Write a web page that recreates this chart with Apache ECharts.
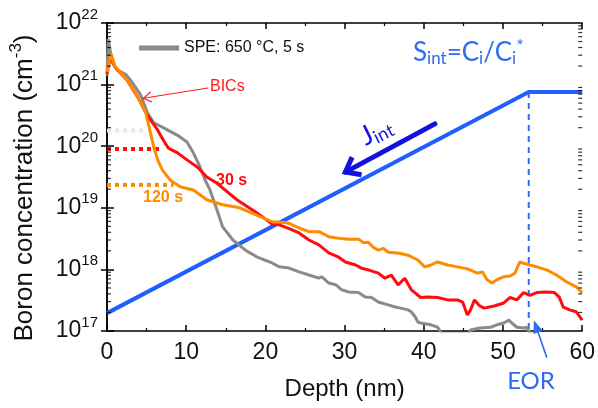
<!DOCTYPE html>
<html><head><meta charset="utf-8">
<script src="https://cdn.jsdelivr.net/npm/echarts@6/dist/echarts.min.js"></script>
<style>html,body{margin:0;padding:0;background:#fff}#c{width:598px;height:408px}</style>
</head><body><div id="c"></div>
<script>
// Boron SIMS profiles: [depth (nm), concentration (cm^-3)]
const spe650 = [[0,1.4e21],[0.15,5.5e21],[0.4,3.6e21],[0.6,2.3e21],[1.4,1.7e21],[2.4,1.45e21],[3.0,1.17e21],[4.25,6.8e20],[5.1,3.5e20],[5.9,2.4e20],[7.1,2.0e20],[8.9,1.5e20],[10.1,1.17e20],[10.9,7.8e19],[11.75,4.6e19],[12.4,2.8e19],[13.0,1.95e19],[13.9,9.1e18],[14.6,4.9e18],[15.9,3.0e18],[17.6,2.0e18],[18.9,1.6e18],[20.9,1.26e18],[21.75,1.1e18],[23.0,1.05e18],[24.25,9.1e17],[25.5,8.1e17],[26.75,7.2e17],[27.1,7.6e17],[28.0,6.0e17],[28.9,5.6e17],[29.6,4.7e17],[30.5,4.3e17],[31.75,4.2e17],[32.6,3.55e17],[33.4,3.5e17],[34.25,2.95e17],[35.5,2.65e17],[36.4,2.45e17],[37.1,2.35e17],[38.0,2.2e17],[38.4,2.05e17],[38.9,1.7e17],[39.25,1.4e17],[39.6,1.35e17],[40.9,1.26e17],[41.75,1.15e17],[42.3,9e16],[45.6,9e16],[45.9,1.04e17],[47.1,1.12e17],[48.4,1.15e17],[49.25,1.26e17],[50.1,1.35e17],[50.75,1.5e17],[51.1,1.35e17],[51.75,1.15e17],[52.6,1.12e17],[53.0,1.15e17],[53.25,1.0e17],[53.6,9e16]];
const anneal30s = [[0,1.5e21],[0.25,2.2e21],[0.5,3.0e21],[0.75,2.4e21],[1.0,1.95e21],[1.4,1.7e21],[2.6,1.15e21],[3.9,6.2e20],[4.9,3.5e20],[5.25,2.95e20],[6.4,1.82e20],[7.1,1.26e20],[7.75,9.3e19],[8.9,7.8e19],[10.1,6.0e19],[11.4,4.6e19],[12.6,3.16e19],[13.9,2.5e19],[16.4,1.35e19],[18.9,8.3e18],[20.9,5.4e18],[21.75,5.3e18],[23.0,4.6e18],[24.25,3.9e18],[25.5,3.0e18],[26.75,2.5e18],[28.0,1.86e18],[29.25,1.58e18],[30.1,1.32e18],[31.4,1.18e18],[32.1,1.05e18],[33.0,9.8e17],[34.25,8.7e17],[35.1,7.2e17],[35.9,8.1e17],[36.75,5.6e17],[37.6,7.2e17],[38.4,4.7e17],[39.6,3.5e17],[40.5,3.55e17],[41.75,3.5e17],[43.0,3.2e17],[44.25,3.2e17],[44.9,2.95e17],[45.5,1.82e17],[45.9,2.2e17],[46.4,3.2e17],[47.0,2.6e17],[47.6,2.35e17],[48.9,2.55e17],[50.1,2.85e17],[50.9,3.5e17],[51.75,3.2e17],[52.6,4.2e17],[53.4,3.8e17],[54.25,4.2e17],[55.5,4.3e17],[56.5,4.2e17],[57.1,3.55e17],[57.6,2.45e17],[58.4,2.2e17],[59.25,2.05e17],[60,1.5e17]];
const anneal120s = [[0,1.6e21],[0.25,2.3e21],[0.5,3.2e21],[0.75,2.5e21],[1.0,2.0e21],[1.4,1.75e21],[2.6,1.17e21],[3.9,6.3e20],[4.9,3.5e20],[5.5,1.62e20],[5.9,9.8e19],[6.4,6.0e19],[7.0,4.1e19],[8.0,2.8e19],[9.25,2.2e19],[10.9,1.95e19],[12.6,1.35e19],[14.6,1.12e19],[16.75,1.0e19],[18.9,7.6e18],[20.9,5.9e18],[21.75,5.9e18],[23.0,5.6e18],[24.25,4.7e18],[25.5,4.1e18],[26.75,4.1e18],[28.0,3.4e18],[29.25,3.2e18],[30.5,3.1e18],[31.75,3.1e18],[32.4,2.7e18],[33.0,2.75e18],[33.6,2.3e18],[34.25,2.05e18],[34.9,2.2e18],[35.5,1.9e18],[36.75,1.85e18],[38.0,1.7e18],[39.25,1.42e18],[40.1,1.1e18],[40.9,1.18e18],[41.75,1.32e18],[43.0,1.18e18],[44.25,1.1e18],[45.5,1.02e18],[46.75,8.7e17],[47.4,9.1e17],[48.0,6.8e17],[48.6,6.0e17],[49.25,6.8e17],[50.1,7.6e17],[50.9,7.8e17],[51.5,8.7e17],[52.1,1.32e18],[52.6,1.26e18],[53.4,1.18e18],[54.25,1.1e18],[55.5,9.8e17],[56.75,8.1e17],[58.0,6.3e17],[59.25,5.2e17],[60,4.2e17]];
// interstitial supersaturation schematic and EOR depth
const sintProfile = [[0,1.95e17],[53.25,7.6e20],[60,7.6e20]];
const eorLine = [[53.25,7.6e20],[53.25,1e17]];
// BIC solubility levels (dotted)
const levelSpe = [[0,1.8e20],[4.9,1.8e20]];
const level30s = [[0,9e19],[6.75,9e19]];
const level120s = [[0,2.35e19],[8.4,2.35e19]];
// axis tick values
const decades = [1e17,1e18,1e19,1e20,1e21];
const minorMantissas = [2,3,4,5,6,7,8,9];
// annotation arrows [tail, tip] in data coordinates
const jArrow = [[41.4,2.3e20],[30.1,3.8e19]];
const bicArrow = [[12.75,8.8e20],[4.6,6.0e20]];
const eorArrow = [[55.5,3.8e16],[53.9,1.5e17]];

const FONT = 'Liberation Sans, Arial, sans-serif';
const BFONT = 'Lato, Open Sans, sans-serif';
const minorVals = [];
decades.forEach(d => minorMantissas.forEach(m => minorVals.push(m*d)));

const chart = echarts.init(document.getElementById('c'), null, {renderer:'canvas'});
const axisLineStyle = {color:'#000', width:1.5};
const yLab = {
  margin: 9,
  formatter: v => '{b|10}{s|' + Math.round(Math.log10(v)) + '}',
  rich: {
    b: {fontSize: 23, fontFamily: FONT, color:'#111'},
    s: {fontSize: 15, fontFamily: FONT, color:'#111', padding:[0,0,17,0]}
  }
};
const option = {
  animation: false,
  backgroundColor: '#fff',
  grid: {left:106, top:23, right:12, bottom:77},
  legend: {
    data: [{name:'SPE: 650 °C, 5 s', icon:'rect'}], left: 134, top: 35, itemWidth: 40, itemHeight: 5, itemGap: 4,
    textStyle: {fontSize: 16, fontFamily: FONT, color:'#111'},
    itemStyle: {color:'#8a8a8a'}
  },
  xAxis: [{
    type:'value', min:0, max:60, interval:10, position:'bottom',
    name:'Depth (nm)', nameLocation:'middle', nameGap:46,
    nameTextStyle:{fontSize:24, fontFamily:FONT, color:'#111'},
    axisLine:{show:true, lineStyle:axisLineStyle},
    axisTick:{show:true, inside:true, length:6, lineStyle:{color:'#000', width:1.5}},
    minorTick:{show:true, splitNumber:2, length:3, lineStyle:{color:'#000', width:1.2}},
    axisLabel:{fontSize:23, fontFamily:FONT, color:'#111', margin:10},
    splitLine:{show:false}
  },{
    type:'value', min:0, max:60, interval:10, position:'top',
    axisLine:{show:true, lineStyle:axisLineStyle},
    axisTick:{show:true, inside:true, length:6, lineStyle:{color:'#000', width:1.5}},
    minorTick:{show:true, splitNumber:2, length:3, lineStyle:{color:'#000', width:1.2}},
    axisLabel:{show:false}, splitLine:{show:false}
  }],
  yAxis: [{
    type:'log', logBase:10, min:1e17, max:1e22, position:'left',
    name:'Boron concentration (cm{s|-3})', nameLocation:'middle', nameGap:66, nameRotate:90,
    nameTextStyle:{fontSize:26, fontFamily:FONT, color:'#111', padding:[0,22,0,0],
      rich:{s:{fontSize:17, fontFamily:FONT, color:'#111', padding:[0,0,16,0]}}},
    axisLine:{show:true, lineStyle:axisLineStyle},
    axisTick:{show:true, inside:true, length:7, lineStyle:{color:'#000', width:1.5}},
    axisLabel: yLab, splitLine:{show:false}
  },{
    type:'log', logBase:10, min:1e17, max:1e22, position:'right',
    axisLine:{show:true, lineStyle:axisLineStyle},
    axisTick:{show:true, inside:true, length:6, lineStyle:{color:'#000', width:1.5}},
    axisLabel:{show:false}, splitLine:{show:false}
  }],
  series: [
    {name:'Sint', type:'line', data:sintProfile, symbol:'none', lineStyle:{color:'#1f5fff', width:4}, z:2},
    {name:'EOR', type:'line', data:eorLine, symbol:'none', lineStyle:{color:'#2e6bf0', width:2, type:[6,5]}, z:2},
    {name:'SPE: 650 °C, 5 s', type:'line', data:spe650, symbol:'none', lineStyle:{color:'#8a8a8a', width:3}, itemStyle:{color:'#8a8a8a'}, z:3},
    {name:'30 s', type:'line', data:anneal30s, symbol:'none', lineStyle:{color:'#ff0d0d', width:3}, z:4},
    {name:'120 s', type:'line', data:anneal120s, symbol:'none', lineStyle:{color:'#ff8c00', width:3}, z:5},
    {name:'lvlSpe', type:'line', data:levelSpe, symbol:'none', lineStyle:{color:'#ebe8da', width:4, type:[4,4]}, z:3},
    {name:'lvl30', type:'line', data:level30s, symbol:'none', lineStyle:{color:'#ff0d0d', width:4, type:[4,4]}, z:3},
    {name:'lvl120', type:'line', data:level120s, symbol:'none', lineStyle:{color:'#ff8c00', width:4, type:[4,4]}, z:3},
    {name:'minorL', type:'scatter', data:minorVals.map(v=>[0,v]), symbol:'rect', symbolSize:[4,1.2], symbolOffset:[2,0], itemStyle:{color:'#000'}, silent:true, z:6},
    {name:'minorR', type:'scatter', data:minorVals.map(v=>[60,v]), symbol:'rect', symbolSize:[4,1.2], symbolOffset:[-2,0], itemStyle:{color:'#000'}, silent:true, z:6}
  ]
};
chart.setOption(option);

function px(p){ return chart.convertToPixel({xAxisIndex:0, yAxisIndex:0}, p); }
function arrow(pts, color, width, headLen, headHalf, filled){
  const a = px(pts[0]), b = px(pts[1]);
  const dx = b[0]-a[0], dy = b[1]-a[1], L = Math.hypot(dx,dy);
  const ux = dx/L, uy = dy/L, nx = -uy, ny = ux;
  const bx = b[0]-ux*headLen, by = b[1]-uy*headLen;
  const els = [];
  const lineEnd = filled ? [bx+ux*2, by+uy*2] : b;
  els.push({type:'line', shape:{x1:a[0], y1:a[1], x2:lineEnd[0], y2:lineEnd[1]}, style:{stroke:color, lineWidth:width, lineCap:'round'}, z:100});
  if (filled) {
    els.push({type:'polygon', shape:{points:[[b[0],b[1]],[bx+nx*headHalf,by+ny*headHalf],[bx-nx*headHalf,by-ny*headHalf]]}, style:{fill:color}, z:100});
  } else {
    els.push({type:'polyline', shape:{points:[[bx+nx*headHalf,by+ny*headHalf],[b[0],b[1]],[bx-nx*headHalf,by-ny*headHalf]]}, style:{stroke:color, lineWidth:width, lineJoin:'miter', lineCap:'butt', fill:null}, z:100});
  }
  return els;
}
const g = [];
g.push(...arrow(jArrow, '#1212e0', 5, 13, 10, false));
g.push(...arrow(bicArrow, '#ff1a1a', 1.2, 8, 5, false));
g.push(...arrow(eorArrow, '#2e6bf0', 1.6, 13, 5, true));
g.push({type:'text', x:210, y:87, z:100, style:{text:'BICs', font:'16px '+FONT, fill:'#ff1a1a', verticalAlign:'middle'}});
g.push({type:'text', x:216, y:181, z:100, style:{text:'30 s', font:'bold 16px '+FONT, fill:'#ff0d0d', verticalAlign:'middle'}});
g.push({type:'text', x:143, y:198, z:100, style:{text:'120 s', font:'bold 16px '+FONT, fill:'#ff8c00', verticalAlign:'middle'}});
g.push({type:'text', x:531, y:381, z:100, style:{text:'EOR', font:'24px '+BFONT, fill:'#2e6bf0', align:'center', verticalAlign:'middle'}});
g.push({type:'text', x:413, y:53, z:100, style:{
  text:'S{sub|int}=C{sub|i}/C{sub|i}{sup|*}', font:'26px '+BFONT, fill:'#2e6bf0', verticalAlign:'middle',
  rich:{sub:{fontSize:17, fontFamily:BFONT, fill:'#2e6bf0', padding:[12,0,0,0]}, sup:{fontSize:18, fontFamily:BFONT, fill:'#2e6bf0', padding:[0,0,14,0]}}
}});
g.push({type:'text', x:376, y:131, rotation:0.47, z:100, style:{
  text:'J{sub|int}', font:'27px '+BFONT, fill:'#1212e0', align:'center', verticalAlign:'middle',
  rich:{sub:{fontSize:18, fontFamily:BFONT, fill:'#1212e0', padding:[12,0,0,0]}}
}});
chart.setOption({graphic: g});
</script></body></html>
